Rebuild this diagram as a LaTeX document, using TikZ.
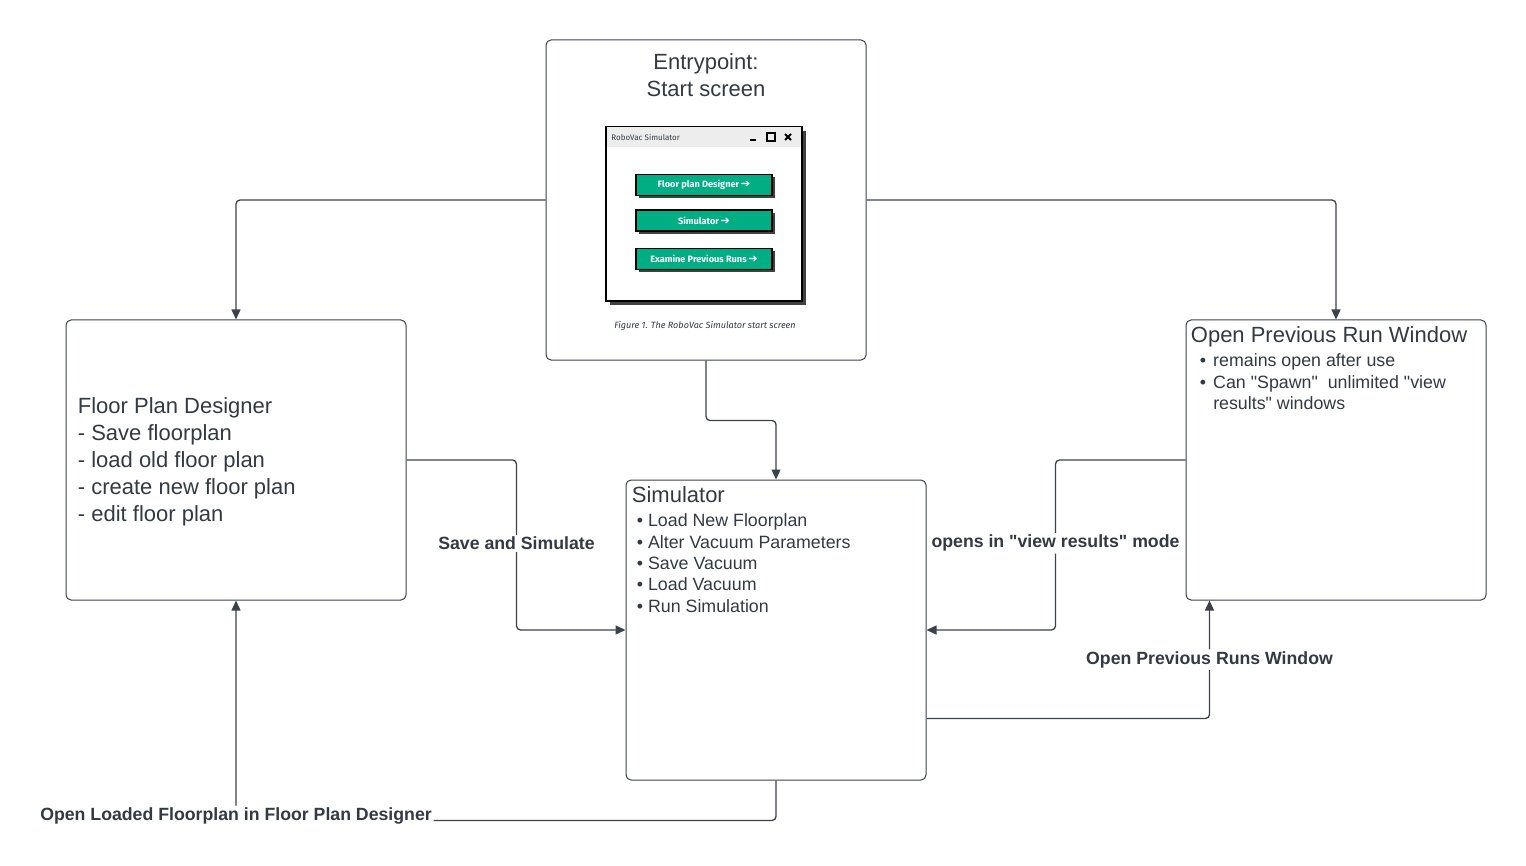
\documentclass[tikz,border=0pt]{standalone}
\usepackage{fontspec}
\setmainfont{Liberation Sans}
\newfontfamily\uifont{Fira Sans}
\newfontfamily\arrowfont{DejaVu Sans}
\usetikzlibrary{positioning, arrows.meta, calc, shadows}
\definecolor{inkgray}{HTML}{333A44}
\definecolor{linegray}{HTML}{3C424B}
\definecolor{btngreen}{HTML}{00AE84}
\definecolor{barlight}{HTML}{EDEDED}
\newcommand{\btnarrow}{{\arrowfont\bfseries\fontsize{5.6}{5}\selectfont ➔}}

\begin{document}
\begin{tikzpicture}[
    x=0.5pt, y=-0.5pt,
    box/.style={draw=linegray, line width=0.5pt, rounded corners=2.5pt, fill=white, inner sep=0pt},
    title/.style={inner sep=0pt, font=\fontsize{11}{13.4}\selectfont, text=inkgray, align=left},
    items/.style={inner sep=0pt, font=\fontsize{8.9}{10.65}\selectfont, text=inkgray, align=left},
    arr/.style={-{Triangle[length=5pt, width=4.5pt]}, draw=linegray, line width=0.65pt, rounded corners=2pt},
    lbl/.style={font=\bfseries\fontsize{8.85}{10}\selectfont, text=inkgray, fill=white, inner sep=1pt},
    btn/.style={draw=black, line width=0.7pt, fill=btngreen, minimum width=68pt, minimum height=10.5pt, inner sep=0pt,
      text=white, font=\uifont\bfseries\fontsize{4.6}{5}\selectfont,
      drop shadow={shadow xshift=1.5pt, shadow yshift=-1.5pt, opacity=1, fill=black!75}}
  ]
  \useasboundingbox (0,0) rectangle (1526,866);

  % main boxes
  \node[box, minimum width=160pt, minimum height=160pt] (entry) at (706,200) {};
  \node[box, minimum width=170pt, minimum height=140pt] (fpd) at (236,460) {};
  \node[box, minimum width=150pt, minimum height=150pt] (sim) at (776,630) {};
  \node[box, minimum width=150pt, minimum height=140pt] (opr) at (1336,460) {};

  % box texts
  \node[title, align=center, anchor=north, font=\fontsize{11}{13.5}\selectfont] (entrytitle) at ($(entry.north)+(0,14)$) {Entrypoint:\\Start screen};
  \node[title, anchor=north west] (fpdtext) at ($(fpd.north west)+(12,78)$) {Floor Plan Designer\\- Save floorplan\\- load old floor plan\\- create new floor plan\\- edit floor plan};
  \node[title, anchor=north west] (simtitle) at ($(sim.north west)+(6,7)$) {Simulator};
  \node[items, anchor=north west] (simitems) at ($(sim.north west)+(11,34)$) {\textbullet\ Load New Floorplan\\\textbullet\ Alter Vacuum Parameters\\\textbullet\ Save Vacuum\\\textbullet\ Load Vacuum\\\textbullet\ Run Simulation};
  \node[title, anchor=north west] (oprtitle) at ($(opr.north west)+(5,7)$) {Open Previous Run Window};
  \node[items, anchor=north west] (opritems) at ($(opr.north west)+(14,34)$) {\textbullet\hspace{0.4em}remains open after use\\\textbullet\hspace{0.4em}Can \textquotedbl Spawn\textquotedbl\ \ unlimited \textquotedbl view\\\phantom{\textbullet}\hspace{0.4em}results\textquotedbl\ windows};

  % start screen window
  \node[draw=black, line width=1pt, fill=white, minimum width=98pt, minimum height=87pt, inner sep=0pt,
    drop shadow={shadow xshift=2pt, shadow yshift=-2pt, opacity=1, fill=black!75}] (win) at (704,214) {};
  \node[fill=barlight, minimum width=97pt, minimum height=10pt, inner sep=0pt, anchor=north] (winbar) at ($(win.north)+(0,1)$) {};
  \node[anchor=west, inner sep=0pt, text=inkgray, font=\uifont\fontsize{4}{4.5}\selectfont] (wintitle) at ($(win.north west)+(6,11)$) {RoboVac Simulator};
  \draw[line width=1pt] ($(win.north east)+(-53,14)$) -- ++(6,0);
  \draw[line width=0.9pt] ($(win.north east)+(-36,7)$) rectangle ++(8,8);
  \draw[line width=0.9pt] ($(win.north east)+(-18,8)$) -- ++(6,6) ($(win.north east)+(-12,8)$) -- ++(-6,6);
  \node[btn] (fpdbtn) at (704,185) {Floor plan Designer\,\btnarrow};
  \node[btn, below=6.5pt of fpdbtn] (simbtn) {Simulator\,\btnarrow};
  \node[btn, below=8pt of simbtn] (runsbtn) {Examine Previous Runs\,\btnarrow};
  \node[inner sep=0pt, text=inkgray, font=\uifont\itshape\fontsize{4.55}{5}\selectfont] (caption) at ($(win.south)+(1,24)$) {Figure 1. The RoboVac Simulator start screen};

  % connectors
  \draw[arr] (entry.west) -| (fpd.north);
  \draw[arr] (entry.east) -| (opr.north);
  \draw[arr] (entry.south) -- ++(0,60) -| (sim.north);
  \draw[arr] (fpd.east) -- ++(110,0) |- node[lbl, pos=0.245] (savelbl) {Save and Simulate} (sim.west);
  \draw[arr] (opr.west) -- ++(-130,0) |- node[lbl, pos=0.245] (viewlbl) {opens in \textquotedbl view results\textquotedbl\ mode} (sim.east);
  \draw[arr] ($(sim.south east)+(0,-62)$) -| node[lbl, pos=0.75] (runslbl) {Open Previous Runs Window} ($(opr.south west)+(24,0)$);
  \draw[arr] (sim.south) -- ++(0,40) -| node[lbl, pos=0.5, anchor=base] (loadlbl) {Open Loaded Floorplan in Floor Plan Designer} (fpd.south);
\end{tikzpicture}
\end{document}
